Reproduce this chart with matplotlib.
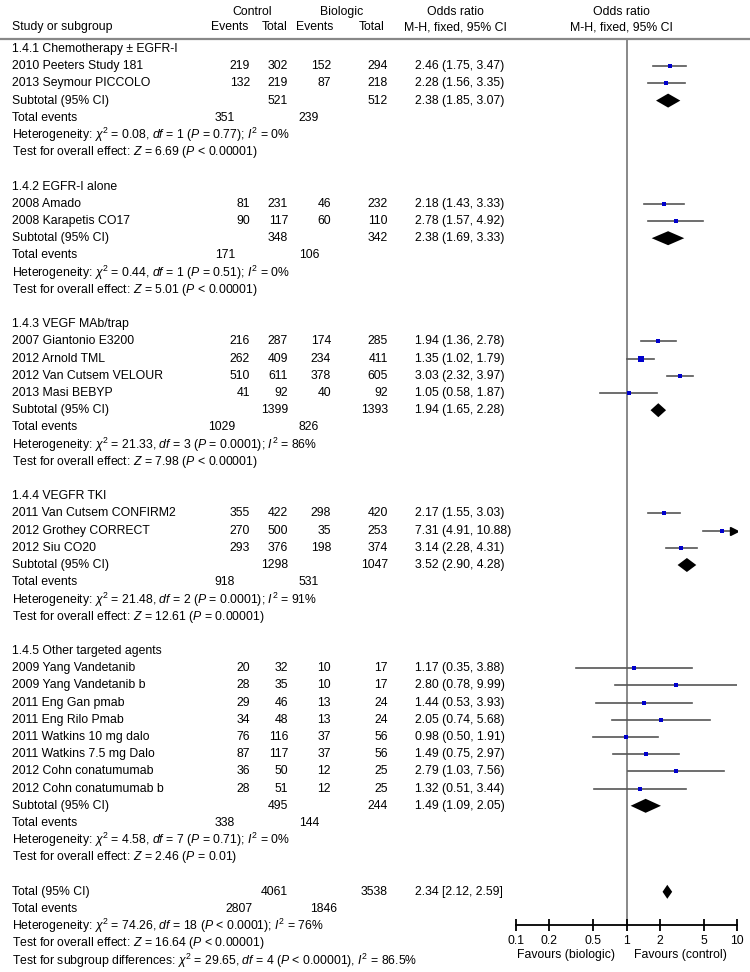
import numpy as np
import matplotlib
matplotlib.use("Agg")
import matplotlib.pyplot as plt

plt.rcParams['font.family'] = ['Liberation Sans', 'DejaVu Sans']
plt.rcParams['mathtext.fontset'] = 'custom'
plt.rcParams['mathtext.rm'] = 'Liberation Sans'
plt.rcParams['mathtext.it'] = 'Liberation Sans:italic'
plt.rcParams['mathtext.bf'] = 'Liberation Sans:bold'

#===== data =====#
groups = ["1.4.1 Chemotherapy \u00b1 EGFR-I", "1.4.2 EGFR-I alone", "1.4.3 VEGF MAb/trap",
          "1.4.4 VEGFR TKI", "1.4.5 Other targeted agents"]
study_group = [0, 0, 1, 1, 2, 2, 2, 2, 3, 3, 3, 4, 4, 4, 4, 4, 4, 4, 4]
studies = ["2010 Peeters Study 181", "2013 Seymour PICCOLO",
           "2008 Amado", "2008 Karapetis CO17",
           "2007 Giantonio E3200", "2012 Arnold TML", "2012 Van Cutsem VELOUR", "2013 Masi BEBYP",
           "2011 Van Cutsem CONFIRM2", "2012 Grothey CORRECT", "2012 Siu CO20",
           "2009 Yang Vandetanib", "2009 Yang Vandetanib b", "2011 Eng Gan pmab", "2011 Eng Rilo Pmab",
           "2011 Watkins 10 mg dalo", "2011 Watkins 7.5 mg Dalo", "2012 Cohn conatumumab",
           "2012 Cohn conatumumab b"]
ctrl_events = [219, 132, 81, 90, 216, 262, 510, 41, 355, 270, 293, 20, 28, 29, 34, 76, 87, 36, 28]
ctrl_total = [302, 219, 231, 117, 287, 409, 611, 92, 422, 500, 376, 32, 35, 46, 48, 116, 117, 50, 51]
bio_events = [152, 87, 46, 60, 174, 234, 378, 40, 298, 35, 198, 10, 10, 13, 13, 37, 37, 12, 12]
bio_total = [294, 218, 232, 110, 285, 411, 605, 92, 420, 253, 374, 17, 17, 24, 24, 56, 56, 25, 25]
or_est = [2.46, 2.28, 2.18, 2.78, 1.94, 1.35, 3.03, 1.05, 2.17, 7.31, 3.14,
          1.17, 2.80, 1.44, 2.05, 0.98, 1.49, 2.79, 1.32]
or_lo = [1.75, 1.56, 1.43, 1.57, 1.36, 1.02, 2.32, 0.58, 1.55, 4.91, 2.28,
         0.35, 0.78, 0.53, 0.74, 0.50, 0.75, 1.03, 0.51]
or_hi = [3.47, 3.35, 3.33, 4.92, 2.78, 1.79, 3.97, 1.87, 3.03, 10.88, 4.31,
         3.88, 9.99, 3.93, 5.68, 1.91, 2.97, 7.56, 3.44]

sub_ctrl_total = [521, 348, 1399, 1298, 495]
sub_bio_total = [512, 342, 1393, 1047, 244]
sub_ctrl_events = [351, 171, 1029, 918, 338]
sub_bio_events = [239, 106, 826, 531, 144]
sub_or = [2.38, 2.38, 1.94, 3.52, 1.49]
sub_lo = [1.85, 1.69, 1.65, 2.90, 1.09]
sub_hi = [3.07, 3.33, 2.28, 4.28, 2.05]
het_chi2 = ["0.08", "0.44", "21.33", "21.48", "4.58"]
het_df = [1, 1, 3, 2, 7]
het_p = ["= 0.77", "= 0.51", "= 0.0001", "= 0.0001", "= 0.71"]
het_i2 = [0, 0, 86, 91, 0]
test_z = ["6.69", "5.01", "7.98", "12.61", "2.46"]
test_p = ["< 0.00001", "< 0.00001", "< 0.00001", "= 0.00001", "= 0.01"]

tot_ctrl_total, tot_bio_total = 4061, 3538
tot_ctrl_events, tot_bio_events = 2807, 1846
tot_or, tot_lo, tot_hi = 2.34, 2.12, 2.59
tot_het = "Heterogeneity: $\\chi^2$ = 74.26, $df$ = 18 ($P$ < 0.0001); $I^2$ = 76%"
tot_test = "Test for overall effect: $Z$ = 16.64 ($P$ < 0.00001)"
tot_sub = "Test for subgroup differences: $\\chi^2$ = 29.65, $df$ = 4 ($P$ < 0.00001), $I^2$ = 86.5%"

ticks = [0.1, 0.2, 0.5, 1, 2, 5, 10]
tick_labels = ["0.1", "0.2", "0.5", "1", "2", "5", "10"]

#===== layout (pixels) =====#
W, H = 750, 972
y0, step = 49, 17.2
fs = 8.85
x_name = 12
x_ce, x_ct, x_be, x_bt = 250, 288, 331, 388
x_te_c, x_te_b = 235, 319
x_or = 415
col_grey = '#555555'
blue = '#0000cc'

fig = plt.figure(figsize=(W / 100, H / 100), dpi=100)
tax = fig.add_axes([0, 0, 1, 1])
tax.set_xlim(0, W)
tax.set_ylim(H, 0)
tax.axis('off')

fax = fig.add_axes([516 / W, 0, 221 / W, 1])
fax.set_xscale('log')
fax.set_xlim(0.1, 10)
fax.set_ylim(H, 0)
fax.patch.set_alpha(0)
for s in ['left', 'right', 'top']:
    fax.spines[s].set_visible(False)
fax.spines['bottom'].set_position(('data', 925))
fax.spines['bottom'].set_linewidth(1.3)
fax.set_yticks([])
fax.set_xticks(ticks)
fax.set_xticklabels(tick_labels, fontsize=fs)
fax.xaxis.set_minor_locator(matplotlib.ticker.NullLocator())
fax.tick_params(axis='x', direction='inout', length=9, width=1.3, pad=3)


def txt(x, y, s, ha='left'):
    tax.text(x, y, s, fontsize=fs, ha=ha, va='center')


# header
txt(252, 12, "Control", 'center')
txt(342, 12, "Biologic", 'center')
txt(455, 12, "Odds ratio", 'center')
txt(621, 12, "Odds ratio", 'center')
txt(x_name, 27, "Study or subgroup")
txt(230, 27, "Events", 'center')
txt(275, 27, "Total", 'center')
txt(315, 27, "Events", 'center')
txt(372, 27, "Total", 'center')
txt(455, 27, "M-H, fixed, 95% CI", 'center')
txt(621, 27, "M-H, fixed, 95% CI", 'center')
tax.plot([0, W], [39, 39], color='#888888', lw=1.6)
fax.plot([1, 1], [39, 925], color='#888888', lw=1.4, zorder=1)

weights = [(ct - ce) * be / (ct + bt) for ce, ct, be, bt in zip(ctrl_events, ctrl_total, bio_events, bio_total)]


def diamond(y, est, lo, hi, h=7):
    fax.fill([lo, est, hi, est], [y, y - h, y, y + h], color='black', lw=0, zorder=3)


row = 0
for g, gname in enumerate(groups):
    y = y0 + row * step
    txt(x_name, y, gname)
    row += 1
    for i in [k for k, sg in enumerate(study_group) if sg == g]:
        y = y0 + row * step
        txt(x_name, y, studies[i])
        txt(x_ce, y, str(ctrl_events[i]), 'right')
        txt(x_ct, y, str(ctrl_total[i]), 'right')
        txt(x_be, y, str(bio_events[i]), 'right')
        txt(x_bt, y, str(bio_total[i]), 'right')
        txt(x_or, y, "%.2f (%.2f, %.2f)" % (or_est[i], or_lo[i], or_hi[i]))
        hi = min(or_hi[i], 10)
        fax.plot([or_lo[i], hi], [y, y], color=col_grey, lw=1.2, zorder=2)
        if or_hi[i] > 10:
            fax.plot([9.3], [y], marker='>', color='black', ms=6, zorder=3)
        ms = max(2.2, 0.6 * np.sqrt(weights[i]))
        fax.plot([or_est[i]], [y], marker='s', color=blue, ms=ms, mew=0, zorder=4)
        row += 1
    y = y0 + row * step
    txt(x_name, y, "Subtotal (95% CI)")
    txt(x_ct, y, str(sub_ctrl_total[g]), 'right')
    txt(x_bt, y, str(sub_bio_total[g]), 'right')
    txt(x_or, y, "%.2f (%.2f, %.2f)" % (sub_or[g], sub_lo[g], sub_hi[g]))
    diamond(y, sub_or[g], sub_lo[g], sub_hi[g])
    row += 1
    y = y0 + row * step
    txt(x_name, y, "Total events")
    txt(x_te_c, y, str(sub_ctrl_events[g]), 'right')
    txt(x_te_b, y, str(sub_bio_events[g]), 'right')
    row += 1
    y = y0 + row * step
    txt(x_name, y, "Heterogeneity: $\\chi^2$ = %s, $df$ = %d ($P$ %s); $I^2$ = %d%%"
        % (het_chi2[g], het_df[g], het_p[g], het_i2[g]))
    row += 1
    y = y0 + row * step
    txt(x_name, y, "Test for overall effect: $Z$ = %s ($P$ %s)" % (test_z[g], test_p[g]))
    row += 2

# overall
y = y0 + row * step
txt(x_name, y, "Total (95% CI)")
txt(x_ct, y, str(tot_ctrl_total), 'right')
txt(x_bt, y, str(tot_bio_total), 'right')
txt(x_or, y, "%.2f [%.2f, %.2f]" % (tot_or, tot_lo, tot_hi))
diamond(y, tot_or, tot_lo, tot_hi)
row += 1
y = y0 + row * step
txt(x_name, y, "Total events")
txt(x_te_c + 18, y, str(tot_ctrl_events), 'right')
txt(x_te_b + 18, y, str(tot_bio_events), 'right')
row += 1
txt(x_name, y0 + row * step, tot_het)
row += 1
txt(x_name, y0 + row * step, tot_test)
row += 1
txt(x_name, y0 + row * step, tot_sub)

txt(566, 955, "Favours (biologic)", 'center')
txt(680, 955, "Favours (control)", 'center')

fig.savefig("out.png", dpi=100)
